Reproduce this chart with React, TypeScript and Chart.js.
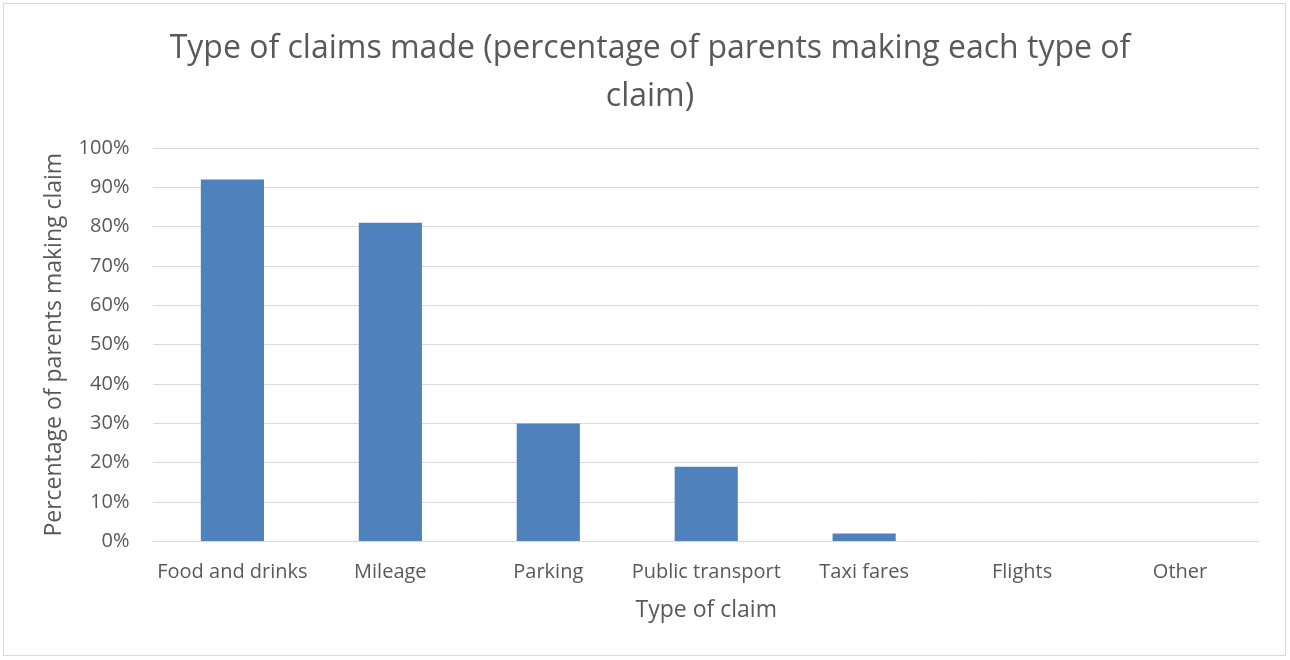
import React, { useEffect, useRef } from "react";
import { Chart, registerables } from "chart.js";

Chart.register(...registerables);

const categories = ["Food and drinks", "Mileage", "Parking", "Public transport", "Taxi fares", "Flights", "Other"];
const values = [92, 81, 30, 19, 2, 0, 0];
const titleLines = ["Type of claims made (percentage of parents making each type of", "claim)"];
const xTitle = "Type of claim";
const yTitle = "Percentage of parents making claim";

const FONT = "'Open Sans', 'Noto Sans', sans-serif";
const TEXT = "#595959";

export default function App() {
  const ref = useRef<HTMLCanvasElement | null>(null);
  useEffect(() => {
    document.body.style.margin = "0";
    if (!ref.current) return;
    const chart = new Chart(ref.current, {
      type: "bar",
      data: {
        labels: categories,
        datasets: [
          {
            data: values,
            backgroundColor: "#4F81BD",
            borderColor: "#4F81BD",
            borderWidth: 0,
            categoryPercentage: 1,
            barPercentage: 0.4,
          },
        ],
      },
      options: {
        animation: false,
        responsive: false,
        maintainAspectRatio: false,
        layout: { autoPadding: false, padding: { left: 41, right: 31, top: 13, bottom: 36 } },
        plugins: {
          legend: { display: false },
          tooltip: { enabled: false },
          title: {
            display: true,
            text: titleLines,
            color: TEXT,
            font: { family: FONT, size: 32, weight: "normal", lineHeight: 1.5 },
            padding: { top: 12, bottom: 27 },
          },
        },
        scales: {
          x: {
            grid: { display: false, drawTicks: true, tickLength: 15, tickColor: "rgba(0,0,0,0)" },
            border: { display: false },
            ticks: { color: TEXT, font: { family: FONT, size: 20 }, padding: 4, maxRotation: 0, autoSkip: false },
            title: { display: true, text: xTitle, color: TEXT, font: { family: FONT, size: 23 }, padding: { top: 8, bottom: 0 } },
          },
          y: {
            min: 0,
            max: 100,
            grid: { color: "#d9d9d9", lineWidth: 1, drawTicks: true, tickLength: 20, tickColor: "rgba(0,0,0,0)" },
            border: { display: false },
            ticks: {
              stepSize: 10,
              color: TEXT,
              font: { family: FONT, size: 20 },
              padding: 4,
              callback: (v: any) => v + "%",
            },
            title: { display: true, text: yTitle, color: TEXT, font: { family: FONT, size: 23 }, padding: { top: 0, bottom: 6 } },
          },
        },
      },
    });
    return () => chart.destroy();
  }, []);
  return (
    <div style={{ position: "absolute", left: 0, top: 0, width: 1290, height: 660, background: "#fff" }}>
      <div style={{ position: "absolute", left: 3, top: 3, width: 1281, height: 651, border: "1px solid #d9d9d9" }} />
      <canvas ref={ref} width={1290} height={660} style={{ position: "absolute", left: 0, top: 0 }} />
    </div>
  );
}
